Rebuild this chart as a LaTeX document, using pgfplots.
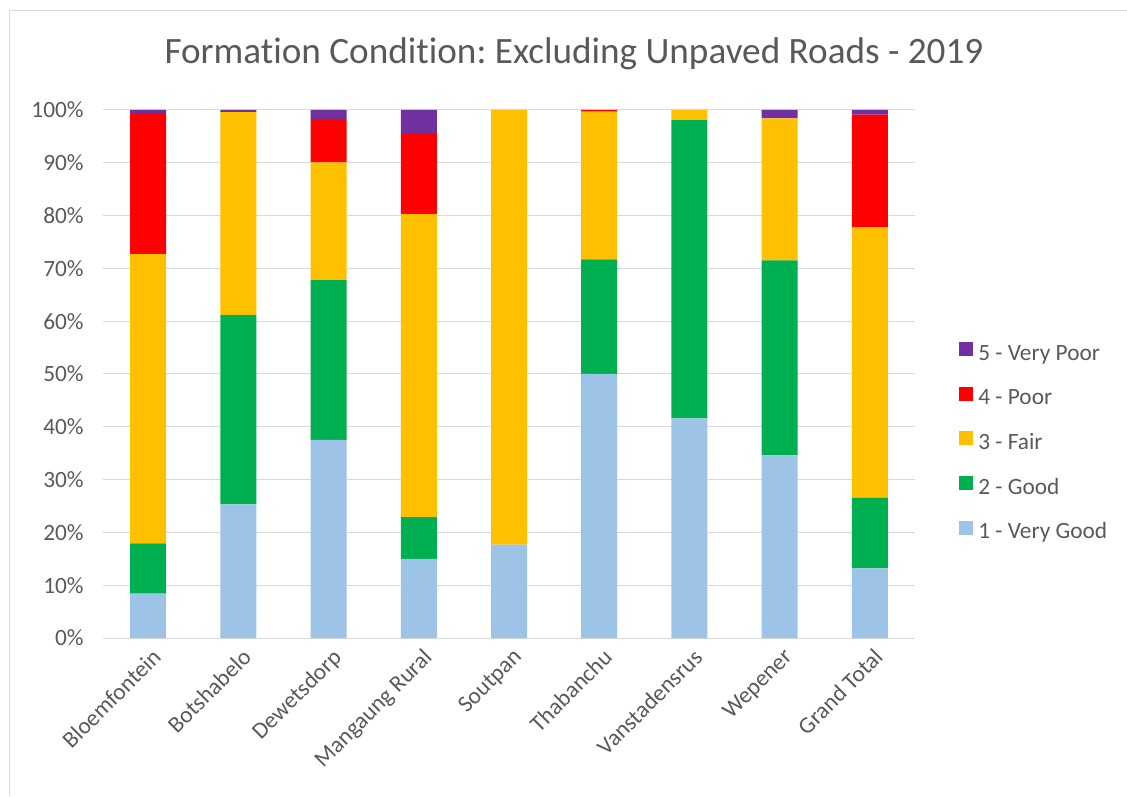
\documentclass[border=0pt]{standalone}
\usepackage{fontspec}
\setmainfont{Carlito}[Ligatures=NoCommon]
\usepackage{pgfplots}
\pgfplotsset{compat=1.18}
\frenchspacing

\definecolor{vgood}{HTML}{9DC3E6}
\definecolor{good}{HTML}{00B050}
\definecolor{fair}{HTML}{FFC000}
\definecolor{poor}{HTML}{FF0000}
\definecolor{vpoor}{HTML}{7030A0}
\definecolor{txt}{HTML}{595959}
\definecolor{gridc}{HTML}{D9D9D9}

% 1 px of the reference = 0.75pt
\begin{document}
\begin{tikzpicture}
\path[use as bounding box] (0pt,0pt) rectangle (845.25pt,597pt);
\draw[gridc, line width=0.75pt] (6.75pt,0pt) -- (6.75pt,588.75pt) -- (845.25pt,588.75pt);
\node[font=\fontsize{27.9}{33}\selectfont, text=txt] at (430.5pt,556.5pt)
  {Formation Condition: Excluding Unpaved Roads - 2019};
\begin{axis}[
  at={(77.25pt,118.5pt)}, anchor=south west,
  width=609pt, height=396pt, scale only axis,
  ybar stacked, bar width=27pt,
  xmin=-0.5, xmax=8.5, ymin=0, ymax=100,
  xtick={0,...,8},
  xticklabels={Bloemfontein,Botshabelo,Dewetsdorp,Mangaung Rural,Soutpan,Thabanchu,Vanstadensrus,Wepener,Grand Total},
  ytick={0,10,...,100},
  yticklabel={\pgfmathprintnumber{\tick}\%},
  /pgf/number format/assume math mode=true,
  axis line style={draw=none},
  major tick style={draw=none},
  ymajorgrids, grid style={gridc, line width=0.75pt},
  tick label style={font=\fontsize{17.5}{21}\selectfont, text=txt},
  yticklabel shift=11pt,
  xticklabel style={rotate=45, anchor=north east, yshift=-3pt},
  reverse legend,
  legend style={at={(1.049,0.369)}, anchor=west, draw=none, fill=none,
    font=\fontsize{17.5}{21}\selectfont, text=txt,
    nodes={inner sep=0pt, text height=12pt, text depth=4pt},
    row sep=16pt},
  legend cell align=left,
  legend image code/.code={\fill[#1] (0pt,-1pt) rectangle (10.5pt,9.5pt);},
]
\addplot[fill=vgood, draw=none] coordinates {(0,8.4) (1,25.3) (2,37.5) (3,15.0) (4,17.7) (5,50.0) (6,41.6) (7,34.6) (8,13.2)};
\addlegendentry{\ 1 - Very Good}
\addplot[fill=good, draw=none] coordinates {(0,9.5) (1,35.9) (2,30.3) (3,7.9) (4,0) (5,21.7) (6,56.5) (7,36.9) (8,13.4)};
\addlegendentry{\ 2 - Good}
\addplot[fill=fair, draw=none] coordinates {(0,54.8) (1,38.4) (2,22.3) (3,57.4) (4,82.3) (5,28.0) (6,1.9) (7,26.9) (8,51.2)};
\addlegendentry{\ 3 - Fair}
\addplot[fill=poor, draw=none] coordinates {(0,26.7) (1,0.2) (2,8.2) (3,15.3) (4,0) (5,0.3) (6,0) (7,0) (8,21.3)};
\addlegendentry{\ 4 - Poor}
\addplot[fill=vpoor, draw=none] coordinates {(0,0.6) (1,0.2) (2,1.7) (3,4.4) (4,0) (5,0) (6,0) (7,1.6) (8,0.9)};
\addlegendentry{\ 5 - Very Poor}
\draw[gridc, line width=0.75pt] (axis cs:-0.5,0) -- (axis cs:8.5,0);
\end{axis}
\end{tikzpicture}
\end{document}
